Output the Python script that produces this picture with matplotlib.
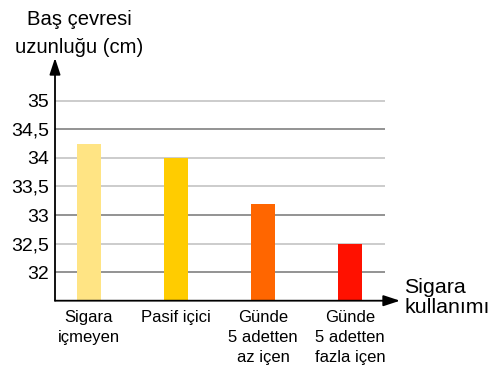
import matplotlib
matplotlib.use("Agg")
import matplotlib.pyplot as plt

plt.rcParams["font.family"] = ["Liberation Sans", "DejaVu Sans"]

categories = ["Sigara\niçmeyen", "Pasif içici", "Günde\n5 adetten\naz içen", "Günde\n5 adetten\nfazla içen"]
values = [34.25, 34.0, 33.2, 32.5]
colors = ["#ffe484", "#ffcc00", "#ff6600", "#ff1100"]
yticks = [32, 32.5, 33, 33.5, 34, 34.5, 35]
ytick_labels = ["32", "32,5", "33", "33,5", "34", "34,5", "35"]
grid_dark = [32, 33, 34.5]

fig = plt.figure(figsize=(4.88, 3.75), dpi=100)
ax = fig.add_axes([55 / 488, 1 - 300.7 / 375, 345 / 488, (300.7 - 58) / 375])
x0, x1 = -0.39, 3.575
y0, y1 = 31.5, 35.75
ax.set_xlim(x0, x1)
ax.set_ylim(y0, y1)

for y in yticks:
    c = "#8a8a8a" if y in grid_dark else "#c8c8c8"
    ax.plot([x0, 3.40], [y, y], color=c, lw=1.3, zorder=1, solid_capstyle="butt")

xs = list(range(len(categories)))
ax.bar(xs, [v - y0 for v in values], bottom=y0, width=0.28, color=colors, zorder=2)

for s in ax.spines.values():
    s.set_visible(False)

# axis arrows
arrow = dict(arrowstyle="-|>,head_length=1.0,head_width=0.33", color="black", lw=1.3,
             shrinkA=0, shrinkB=0)
ax.annotate("", xy=(x0, y1), xytext=(x0, y0), arrowprops=arrow, zorder=3, annotation_clip=False)
ax.annotate("", xy=(x1, y0), xytext=(x0, y0), arrowprops=arrow, zorder=3, annotation_clip=False)

ax.set_yticks(yticks)
ax.set_yticklabels(ytick_labels, fontsize=14)
ax.tick_params(axis="y", length=0, pad=4)
ax.set_xticks(xs)
ax.set_xticklabels(categories, fontsize=12, linespacing=1.38)
ax.tick_params(axis="x", length=0, pad=7)

# axis titles, one text per line so baselines can be placed directly
fig.text(79 / 488, 1 - 25 / 375, "Baş çevresi", ha="center", va="baseline", fontsize=14.6)
fig.text(79 / 488, 1 - 53 / 375, "uzunluğu (cm)", ha="center", va="baseline", fontsize=14.6)
fig.text(404 / 488, 1 - 293 / 375, "Sigara", ha="left", va="baseline", fontsize=15.4)
fig.text(404 / 488, 1 - 313 / 375, "kullanımı", ha="left", va="baseline", fontsize=15.4)

fig.savefig("out.png", dpi=100)
